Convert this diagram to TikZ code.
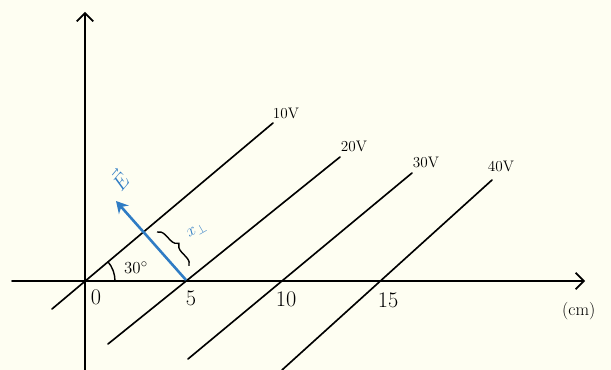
\documentclass[tikz,border=0pt]{standalone}
\usetikzlibrary{arrows.meta,decorations.pathreplacing}
\definecolor{bg}{HTML}{FEFEF2}
\definecolor{eblue}{HTML}{2F7CC4}
\begin{document}
\begin{tikzpicture}[x=0.03cm,y=-0.03cm,
  ln/.style={line width=1.4pt,black,line cap=round},
  axis/.style={ln,-{Straight Barb[length=7pt,width=14pt,line width=1.4pt]}},
  lbl/.style={font=\fontsize{19}{21}\selectfont,inner sep=0pt},
  slbl/.style={font=\fontsize{15}{17}\selectfont,inner sep=0pt},
  vlbl/.style={font=\fontsize{13}{15}\selectfont,inner sep=0pt}]
\fill[bg] (0,0) rectangle (611,370);
\useasboundingbox (0,0) rectangle (611,370);
% axes
\coordinate (xs) at (12,281);
\coordinate (xe) at (585,281);
\coordinate (ys) at (85,372);
\coordinate (ye) at (85,12);
\draw[axis] (xs) -- (xe);
\draw[axis] (ys) -- (ye);
% equipotential lines
\coordinate (a1) at (52,309); \coordinate (b1) at (273,123);
\coordinate (a2) at (108,344); \coordinate (b2) at (340,157);
\coordinate (a3) at (188,359); \coordinate (b3) at (412,173);
\coordinate (a4) at (282,370); \coordinate (b4) at (492,180);
\draw[ln] (a1) -- (b1);
\draw[ln] (a2) -- (b2);
\draw[ln] (a3) -- (b3);
\draw[ln] (a4) -- (b4);
\node[vlbl] (v10) at (286,113) {10V};
\node[vlbl] (v20) at (354,146) {20V};
\node[vlbl] (v30) at (426,162) {30V};
\node[vlbl] (v40) at (501,166) {40V};
% tick labels
\node[lbl] (t0) at (96,297) {0};
\node[lbl] (t5) at (191,298) {5};
\node[lbl] (t10) at (286,299) {10};
\node[lbl] (t15) at (388,300) {15};
\node[slbl,anchor=west] (cm) at (562,311) {(cm)};
% angle
\coordinate (O) at (85,281);
\draw[line width=1.2pt] (O) ++(30,0) arc[start angle=0,end angle=-40,radius=30];
\node[slbl] (ang) at (136,268) {$30^\circ$};
% E field arrow
\coordinate (p5) at (186,280);
\coordinate (et) at (116,201);
\draw[line width=2.2pt,eblue,-{Stealth[length=10pt,width=11pt]}] (p5) -- (et);
\node[lbl,text=eblue,rotate=50] (E) at (119,180) {$\vec{E}$};
% brace
\coordinate (br1) at (157,232);
\coordinate (br2) at (189,266);
\draw[line width=1.2pt,decorate,decoration={brace,amplitude=7pt}] (br1) -- (br2);
\node[slbl,text=eblue,rotate=30] (xp) at (197,231) {$x_{\perp}$};
\end{tikzpicture}
\end{document}
